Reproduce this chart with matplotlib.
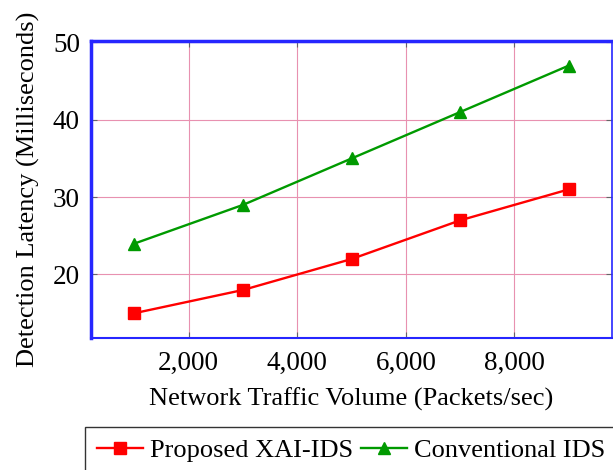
import numpy as np
from matplotlib import pyplot as plt

plt.rcParams['font.family'] = ['Liberation Serif', 'DejaVu Serif']

traffic = [1000, 3000, 5000, 7000, 9000]
proposed = [15, 18, 22, 27, 31]
conventional = [24, 29, 35, 41, 47]
xticks = [2000, 4000, 6000, 8000]
yticks = [20, 30, 40, 50]

fig = plt.figure(figsize=(6.13, 4.7), dpi=100)
ax = fig.add_axes([0.1485, 0.281, 0.85, 0.632])

ax.plot(traffic, proposed, color='#ff0000', lw=1.7, marker='s', ms=9,
        label='Proposed XAI-IDS', zorder=3)
ax.plot(traffic, conventional, color='#009a00', lw=1.7, marker='^', ms=9,
        label='Conventional IDS', zorder=3)

ax.set_xlim(200, 9800)
ax.set_ylim(11.8, 50.2)
ax.set_xticks(xticks)
ax.set_xticklabels(['{:,}'.format(v) for v in xticks])
ax.set_yticks(yticks)
ax.grid(True, color='#e891b0', lw=0.8)
ax.tick_params(direction='in', length=4, width=0.8, color='#666666',
               top=True, right=True, labelsize=19.5)
ax.tick_params(axis='x', pad=9)
ax.tick_params(axis='y', pad=8)

for s in ax.spines.values():
    s.set_color('#2626ff')
ax.spines['left'].set_linewidth(2.5)
ax.spines['top'].set_linewidth(2.5)
ax.spines['right'].set_linewidth(1.2)
ax.spines['bottom'].set_linewidth(1.5)

ax.set_xlabel('Network Traffic Volume (Packets/sec)', fontsize=19, labelpad=9)
ax.set_ylabel('Detection Latency (Milliseconds)', fontsize=19, labelpad=9)

leg = fig.legend(loc='upper left', bbox_to_anchor=(0.139, 0.092), ncol=2,
                 fontsize=19, frameon=True, fancybox=False, edgecolor='black',
                 handlelength=1.75, handletextpad=0.25, columnspacing=0.3,
                 borderpad=0.45, borderaxespad=0)
leg.get_frame().set_linewidth(1.0)

fig.savefig('out.png', dpi=100)
